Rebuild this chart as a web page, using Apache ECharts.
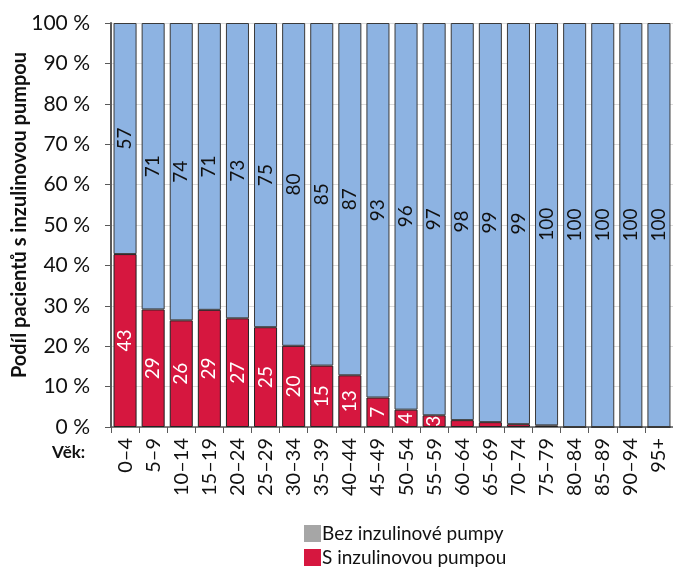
<!DOCTYPE html>
<html>
<head>
<meta charset="utf-8">
<script src="https://cdn.jsdelivr.net/npm/echarts@6/dist/echarts.min.js"></script>
<style>
  html, body { margin: 0; padding: 0; background: #fff; }
  #chart { width: 673px; height: 570px; }
</style>
</head>
<body>
<div id="chart"></div>
<script>
  // vekove skupiny
  var vek = ['0–4', '5–9', '10–14', '15–19', '20–24', '25–29', '30–34', '35–39', '40–44', '45–49',
    '50–54', '55–59', '60–64', '65–69', '70–74', '75–79', '80–84', '85–89', '90–94', '95+'];
  // podil v %
  var sPumpou = [42.8, 29.1, 26.4, 29.0, 26.9, 24.7, 20.1, 15.2, 12.8, 7.3,
    4.3, 2.9, 1.7, 1.2, 0.7, 0.4, 0, 0, 0, 0];
  var bezPumpy = [57.2, 70.9, 73.6, 71.0, 73.1, 75.3, 79.9, 84.8, 87.2, 92.7,
    95.7, 97.1, 98.3, 98.8, 99.3, 99.6, 100, 100, 100, 100];
  var yTicks = [0, 10, 20, 30, 40, 50, 60, 70, 80, 90, 100];

  var font = 'Lato';
  var chart = echarts.init(document.getElementById('chart'));

  var option = {
    animation: false,
    textStyle: { fontFamily: font },
    // posledni sloupec presahuje pres okraj jako v originale
    grid: { left: 111, width: 572, top: 23, height: 404, containLabel: false },
    legend: {
      orient: 'vertical',
      left: 304,
      top: 524,
      padding: 0,
      itemWidth: 17,
      itemHeight: 17,
      itemGap: 5,
      icon: 'rect',
      textStyle: { fontFamily: font, fontSize: 19, color: '#111', padding: [0, 0, 0, -4] },
      data: [
        { name: 'Bez inzulinové pumpy', itemStyle: { color: '#a6a6a6', borderWidth: 0 } },
        { name: 'S inzulinovou pumpou', itemStyle: { color: '#d6173f', borderWidth: 0 } }
      ]
    },
    xAxis: {
      type: 'category',
      data: vek,
      axisLine: { lineStyle: { color: '#595959', width: 1.5 } },
      axisTick: { show: true, length: 6, lineStyle: { color: '#595959' } },
      axisLabel: { rotate: 90, fontSize: 20, color: '#111', margin: 11, fontFamily: font }
    },
    yAxis: {
      type: 'value',
      min: yTicks[0],
      max: yTicks[yTicks.length - 1],
      interval: 10,
      axisLine: { show: true, lineStyle: { color: '#595959', width: 2 } },
      axisTick: { show: true, length: 6, lineStyle: { color: '#595959' } },
      axisLabel: { formatter: '{value} %', fontSize: 21, color: '#111', margin: 21, fontFamily: font },
      splitLine: { lineStyle: { color: '#dcdcdc' } }
    },
    series: [
      {
        name: 'S inzulinovou pumpou',
        type: 'bar',
        stack: 'vse',
        barWidth: '82%',
        data: sPumpou,
        itemStyle: { color: '#d6173f', borderColor: '#222', borderWidth: 1 },
        label: {
          show: true,
          position: 'inside',
          rotate: 90,
          color: '#fff',
          fontSize: 19,
          fontFamily: font,
          formatter: function (p) { return p.value >= 2.5 ? Math.round(p.value) : ''; }
        }
      },
      {
        name: 'Bez inzulinové pumpy',
        type: 'bar',
        stack: 'vse',
        barWidth: '82%',
        data: bezPumpy,
        itemStyle: { color: '#8db3e2', borderColor: '#3a3a3a', borderWidth: 1 },
        label: {
          show: true,
          position: 'inside',
          rotate: 90,
          color: '#111',
          fontSize: 19,
          fontFamily: font,
          formatter: function (p) { return Math.round(p.value); }
        }
      }
    ],
    graphic: [
      {
        type: 'text',
        x: 20,
        y: 215,
        rotation: Math.PI / 2,
        style: {
          text: 'Podíl pacientů s inzulinovou pumpou',
          fontFamily: font, fontSize: 20, fontWeight: 'bold', fill: '#111',
          align: 'center', verticalAlign: 'middle'
        }
      },
      {
        type: 'text',
        left: 52,
        top: 444,
        style: { text: 'Věk:', fontFamily: font, fontSize: 17, fontWeight: 'bold', fill: '#111' }
      }
    ]
  };

  chart.setOption(option);
</script>
</body>
</html>
